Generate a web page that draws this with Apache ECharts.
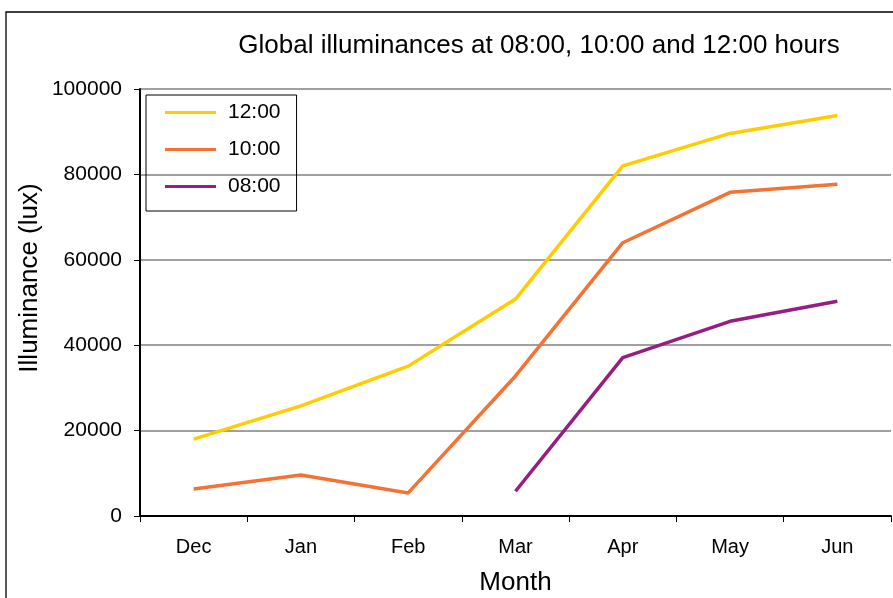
<!DOCTYPE html>
<html>
<head>
<meta charset="utf-8">
<script src="https://cdn.jsdelivr.net/npm/echarts@6/dist/echarts.min.js"></script>
<style>html,body{margin:0;padding:0;background:#fff}#c{width:893px;height:598px}</style>
</head>
<body>
<div id="c"></div>
<script>
const months = ['Dec','Jan','Feb','Mar','Apr','May','Jun'];
const s1200 = [18000, 25800, 35100, 50800, 82000, 89600, 93800];
const s1000 = [6300, 9600, 5400, 32800, 64000, 75800, 77700];
const s0800 = [null, null, null, 5800, 37100, 45600, 50300];
const yTicks = [0, 20000, 40000, 60000, 80000, 100000];

const FONT = '"Liberation Sans", Arial, sans-serif';
const chart = echarts.init(document.getElementById('c'), null, {renderer:'canvas'});
chart.setOption({
  animation: false,
  backgroundColor: '#fff',
  textStyle: {fontFamily: FONT},
  graphic: [{
    type: 'rect', x: 6, y: 12, shape: {width: 1000, height: 1000},
    style: {fill: 'none', stroke: '#000', lineWidth: 1.3}, z: -1
  }, {
    type: 'text', x: 30, y: 278, rotation: Math.PI / 2,
    style: {text: 'Illuminance (lux)', font: '26px "Liberation Sans", Arial, sans-serif',
      fill: '#000', textAlign: 'center', textVerticalAlign: 'middle'}
  }],
  title: {
    text: 'Global illuminances at 08:00, 10:00 and 12:00 hours',
    left: 534, textAlign: 'center', top: 28,
    textStyle: {fontFamily: FONT, fontSize: 26, fontWeight: 'normal', color: '#000'}
  },
  legend: {
    orient: 'vertical', left: 146, top: 95,
    padding: [7, 16, 14, 19],
    itemGap: 16, itemWidth: 51, itemHeight: 3, icon: 'rect',
    borderColor: '#000', borderWidth: 1,
    textStyle: {fontFamily: FONT, fontSize: 21, color: '#000', padding: [0, 0, 0, 7]},
    data: ['12:00', '10:00', '08:00']
  },
  grid: {left: 140, top: 89, right: 2, bottom: 82, containLabel: false, outerBoundsMode: 'none'},
  xAxis: {
    type: 'category', data: months, boundaryGap: true,
    name: 'Month', nameLocation: 'middle', nameGap: 54,
    nameTextStyle: {fontFamily: FONT, fontSize: 26, color: '#000'},
    axisLine: {lineStyle: {color: '#000', width: 2}},
    axisTick: {show: true, length: 6, lineStyle: {color: '#000', width: 1}},
    axisLabel: {fontFamily: FONT, fontSize: 20, color: '#000', margin: 21}
  },
  yAxis: {
    type: 'value', min: 0, max: 100000, interval: 20000,
    axisLine: {show: true, lineStyle: {color: '#000', width: 2}},
    axisTick: {show: true, length: 6, lineStyle: {color: '#000', width: 1}},
    axisLabel: {fontFamily: FONT, fontSize: 21, color: '#000', margin: 18,
      formatter: v => yTicks.includes(v) ? String(v) : ''},
    splitLine: {lineStyle: {color: '#808080', width: 1.5}}
  },
  series: [
    {name: '12:00', type: 'line', data: s1200, symbol: 'none', color: '#FFCC00', lineStyle: {width: 3.5}},
    {name: '10:00', type: 'line', data: s1000, symbol: 'none', color: '#F47234', lineStyle: {width: 3.5}},
    {name: '08:00', type: 'line', data: s0800, symbol: 'none', color: '#961E82', lineStyle: {width: 3.5}}
  ]
});
</script>
</body>
</html>
